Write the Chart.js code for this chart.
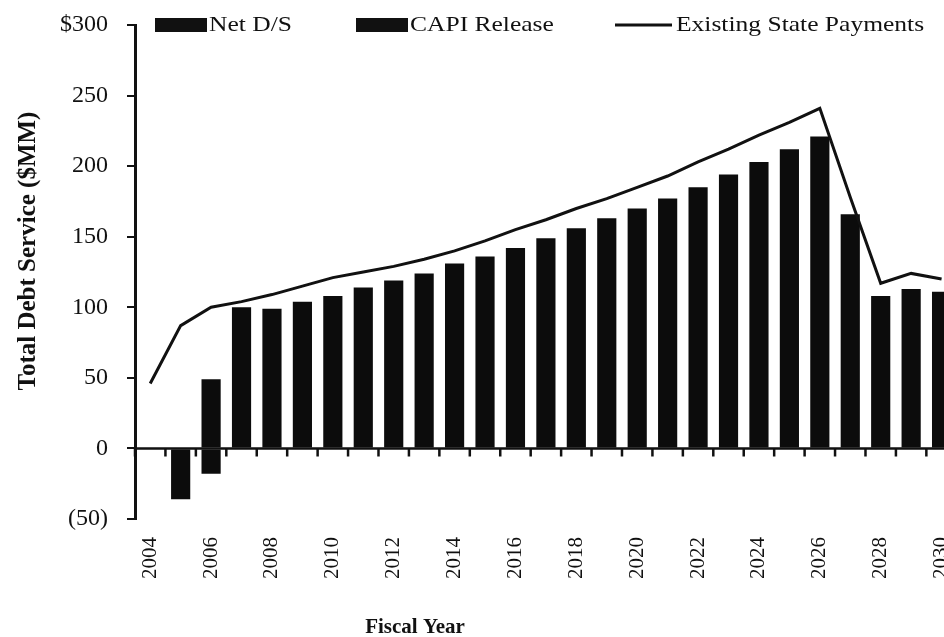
<!DOCTYPE html>
<html>
<head>
<meta charset="utf-8">
<script src="https://cdn.jsdelivr.net/npm/chart.js@4"></script>
<style>
  html, body { margin: 0; padding: 0; background: #fff; overflow: hidden; }
  canvas { display: block; }
</style>
</head>
<body>
<canvas id="myChart" width="977" height="637"></canvas>
<script>
const years = ['2004', '2005', '2006', '2007', '2008', '2009', '2010', '2011', '2012',
    '2013', '2014', '2015', '2016', '2017', '2018', '2019', '2020', '2021', '2022',
    '2023', '2024', '2025', '2026', '2027', '2028', '2029', '2030'];
const netDS = [null, null, 49, 100, 99, 104, 108, 114, 119, 124, 131, 136, 142, 149,
    156, 163, 170, 177, 185, 194, 203, 212, 221, 166, 108, 113, 111];
const capiRelease = [null, -36, -18, null, null, null, null, null, null, null, null,
    null, null, null, null, null, null, null, null, null, null, null, null, null, null, null, null];
const statePayments = [46, 87, 100, 104, 109, 115, 121, 125, 129, 134, 140, 147, 155,
    162, 170, 177, 185, 193, 203, 212, 222, 231, 241, 178, 117, 124, 120];

const serif = "'Liberation Serif', 'DejaVu Serif', serif";

// the scan is a bit wider than tall, so legend text gets stretched sideways
function wideText(ctx, txt, x, y, sx) {
    ctx.save();
    ctx.translate(x, y);
    ctx.scale(sx, 1);
    ctx.fillText(txt, 0, 0);
    ctx.restore();
}

// zero line with its ticks, legend and axis titles
const extras = {
    id: 'extras',
    afterDatasetsDraw(chart) {
        const {ctx, chartArea, scales: {x, y}} = chart;
        const y0 = y.getPixelForValue(0);
        const half = (x.getPixelForValue(1) - x.getPixelForValue(0)) / 2;
        ctx.save();
        ctx.strokeStyle = '#111';
        ctx.lineWidth = 2.5;
        ctx.beginPath();
        ctx.moveTo(chartArea.left, y0);
        ctx.lineTo(chartArea.right, y0);
        for (let i = 0; i <= years.length; i++) {
            const px = x.getPixelForValue(i) - half;
            ctx.moveTo(px, y0);
            ctx.lineTo(px, y0 + 8);
        }
        ctx.stroke();
        ctx.restore();
    },
    afterDraw(chart) {
        const {ctx, chartArea} = chart;
        const ly = chartArea.top;
        ctx.save();
        ctx.fillStyle = '#111';
        ctx.strokeStyle = '#111';
        ctx.textBaseline = 'middle';
        ctx.font = '22px ' + serif;
        // legend
        ctx.fillRect(155, ly - 7, 52, 14);
        wideText(ctx, 'Net D/S', 209, ly, 1.16);
        ctx.fillRect(356, ly - 7, 52, 14);
        wideText(ctx, 'CAPI Release', 410, ly, 1.16);
        ctx.lineWidth = 3;
        ctx.beginPath();
        ctx.moveTo(615, ly);
        ctx.lineTo(672, ly);
        ctx.stroke();
        wideText(ctx, 'Existing State Payments', 676, ly, 1.16);
        // titles
        ctx.font = 'bold 21px ' + serif;
        ctx.textAlign = 'center';
        ctx.fillText('Fiscal Year', 415, 628);
        ctx.font = 'bold 25px ' + serif;
        ctx.translate(29, 251);
        ctx.rotate(-Math.PI / 2);
        ctx.fillText('Total Debt Service ($MM)', 0, 0);
        ctx.restore();
    }
};

const grafico = document.getElementById('myChart');

const myChart = new Chart(grafico, {
    type: 'bar',
    data: {
        labels: years,
        datasets: [{
            type: 'line',
            label: 'Existing State Payments',
            data: statePayments,
            borderColor: '#111',
            borderWidth: 3,
            pointRadius: 0,
            tension: 0,
            order: 0
        }, {
            label: 'Net D/S',
            data: netDS,
            backgroundColor: '#0c0c0c',
            order: 1
        }, {
            label: 'CAPI Release',
            data: capiRelease,
            backgroundColor: '#0c0c0c',
            order: 1
        }]
    },
    options: {
        responsive: false,
        animation: false,
        layout: { padding: { top: 25, right: 12, left: 0, bottom: 0 } },
        datasets: {
            bar: { categoryPercentage: 1, barPercentage: 0.63 }
        },
        plugins: {
            legend: { display: false },
            tooltip: { enabled: false }
        },
        scales: {
            x: {
                stacked: true,
                offset: true,
                grid: { display: false },
                border: { display: false },
                afterFit(s) { s.height = 118; },
                ticks: {
                    autoSkip: false,
                    minRotation: 90,
                    maxRotation: 90,
                    padding: 10,
                    color: '#111',
                    font: { family: serif, size: 21 },
                    callback: (v, i) => (i % 2 === 0 ? years[i] : '')
                }
            },
            y: {
                stacked: true,
                min: -50,
                max: 300,
                afterFit(s) {
                    s.width = 135;
                    s.paddingTop = 0;
                },
                border: { color: '#111', width: 3 },
                grid: {
                    drawOnChartArea: false,
                    color: '#111',
                    lineWidth: 2,
                    tickLength: 8
                },
                ticks: {
                    stepSize: 50,
                    padding: 19,
                    color: '#111',
                    font: { family: serif, size: 24 },
                    callback: v => (v === 300 ? '$300' : v < 0 ? '(' + (-v) + ')' : v)
                }
            }
        }
    },
    plugins: [extras]
});
</script>
</body>
</html>
